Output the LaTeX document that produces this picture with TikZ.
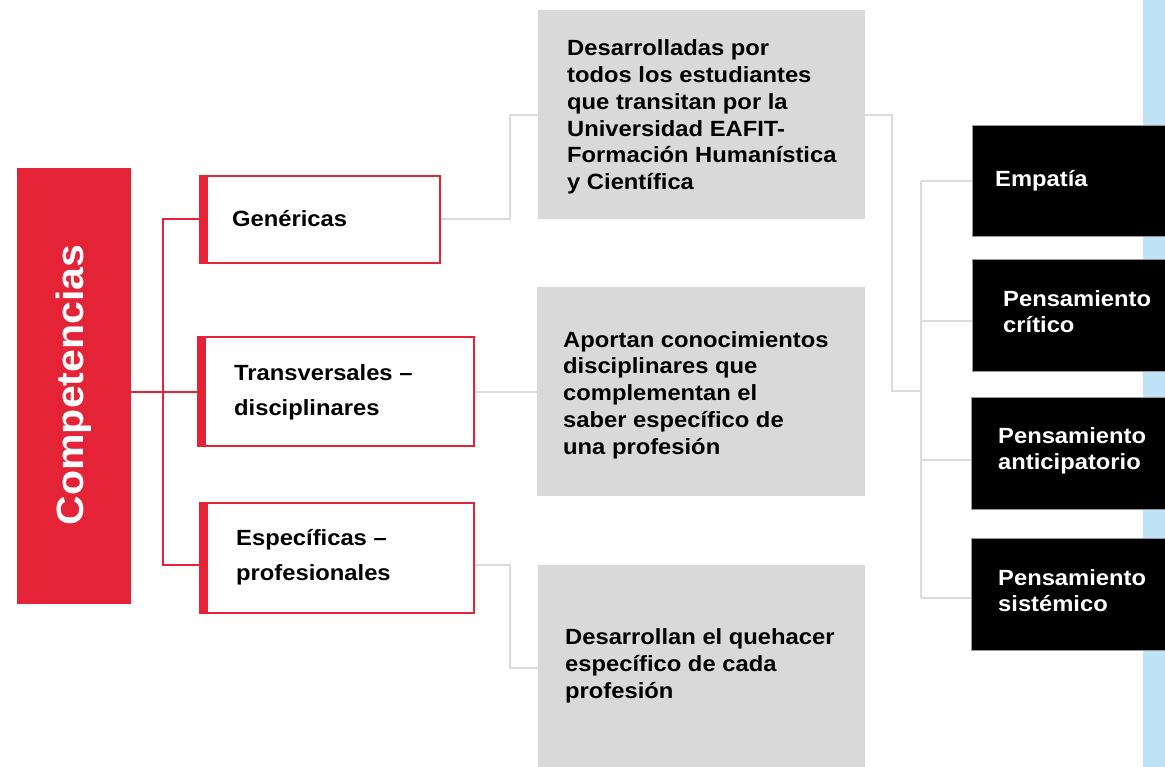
\documentclass[tikz,border=0pt]{standalone}
\usepackage{fontspec}
\setmainfont{Liberation Sans}[FakeStretch=1.08]
\usetikzlibrary{calc}
\definecolor{cred}{HTML}{E42336}
\definecolor{cgray}{HTML}{D9D9D9}
\definecolor{cline}{HTML}{DCDCDC}
\definecolor{cblue}{HTML}{BEE3F6}
\begin{document}
\begin{tikzpicture}[x=1pt,y=-1pt,
  box/.style={rectangle, inner sep=0, anchor=north west},
  graybox/.style={box, fill=cgray},
  redbox/.style={box, draw=cred, line width=2pt, fill=white},
  blackbox/.style={box, fill=black, draw=black!40, line width=0.6pt},
  txt/.style={anchor=west, inner sep=0, align=left, font=\bfseries\fontsize{22}{26.7}\selectfont},
  redtxt/.style={txt, font=\bfseries\fontsize{22}{35}\selectfont},
  wtxt/.style={txt, text=white, font=\bfseries\fontsize{22}{26}\selectfont},
  redline/.style={draw=cred, line width=2pt},
  grayline/.style={draw=cline, line width=2pt}]
\useasboundingbox (0,0) rectangle (1165,767);
\fill[white] (0,0) rectangle (1165,767);
% light blue strip
\fill[cblue] (1143,0) rectangle (1170,767);
% main box
\node[box, fill=cred, minimum width=114, minimum height=436] (comp) at (17,168) {};
\node[rotate=90, text=white, inner sep=0, font=\bfseries\fontsize{38}{40}\selectfont] (compt) at (74,385) {Competencias};
% red boxes
\node[redbox, minimum width=240, minimum height=87] (gen) at (199,175) {};
\node[redbox, minimum width=276, minimum height=109] (trans) at (197,336) {};
\node[redbox, minimum width=274, minimum height=110] (esp) at (199,502) {};
\foreach \n in {gen,trans,esp}{\fill[cred] (\n.north west) rectangle ($(\n.south west)+(9,0)$);}
\node[redtxt] (gent) at (232,219) {Genéricas};
\node[redtxt] (transt) at (234,392.5) {Transversales –\\disciplinares};
\node[redtxt] (espt) at (236,557.5) {Específicas –\\profesionales};
% gray boxes
\node[graybox, minimum width=327, minimum height=209] (g1) at (538,10) {};
\node[graybox, minimum width=328, minimum height=209] (g2) at (537,287) {};
\node[graybox, minimum width=327, minimum height=206] (g3) at (538,565) {};
\node[txt] (g1t) at (567,117) {Desarrolladas por\\todos los estudiantes\\que transitan por la\\Universidad EAFIT-\\Formación Humanística\\y Científica};
\node[txt] (g2t) at (563,395) {Aportan conocimientos\\disciplinares que\\complementan el\\saber específico de\\una profesión};
\node[txt] (g3t) at (565,666) {Desarrollan el quehacer\\específico de cada\\profesión};
% black boxes
\node[blackbox, minimum width=200, minimum height=111] (b1) at (972,125) {};
\node[blackbox, minimum width=200, minimum height=112] (b2) at (972,259) {};
\node[blackbox, minimum width=201, minimum height=112] (b3) at (971,397) {};
\node[blackbox, minimum width=201, minimum height=112] (b4) at (971,538) {};
\node[wtxt] (b1t) at (995,181) {Empatía};
\node[wtxt] (b2t) at (1003,311.5) {Pensamiento\\crítico};
\node[wtxt] (b3t) at (998,451) {Pensamiento\\anticipatorio};
\node[wtxt] (b4t) at (998,591) {Pensamiento\\sistémico};
% coordinates for connector routing
\coordinate (spine) at (163,0);
\coordinate (xa) at (510,0);
\coordinate (xb) at (892,0);
\coordinate (hub) at (921,391);
\coordinate (espin) at ($(esp.west)+(0,7)$);
\coordinate (espout) at ($(esp.east)+(0,7)$);
\coordinate (b1in) at ($(b1.west)+(0,0.5)$);
\coordinate (b2in) at ($(b2.west)+(0,6)$);
\coordinate (b3in) at ($(b3.west)+(0,7)$);
\coordinate (b4in) at ($(b4.west)+(0,4)$);
% red connectors
\draw[redline] (comp.east |- trans.west) -- (trans.west);
\draw[redline] (gen.west) -- (gen.west -| spine) -- (espin -| spine) -- (espin);
% gray connectors
\draw[grayline] (gen.east) -- (gen.east -| xa) |- (g1.west);
\draw[grayline] (trans.east) -- (trans.east -| g2.west);
\draw[grayline] (espout) -- (espout -| xa) |- (g3.west);
\draw[grayline] (g1.east) -- (g1.east -| xb) |- (hub);
\draw[grayline] (b1in -| hub) -- (b4in -| hub);
\draw[grayline] (b1in -| hub) -- (b1in);
\draw[grayline] (b2in -| hub) -- (b2in);
\draw[grayline] (b3in -| hub) -- (b3in);
\draw[grayline] (b4in -| hub) -- (b4in);
\end{tikzpicture}
\end{document}
